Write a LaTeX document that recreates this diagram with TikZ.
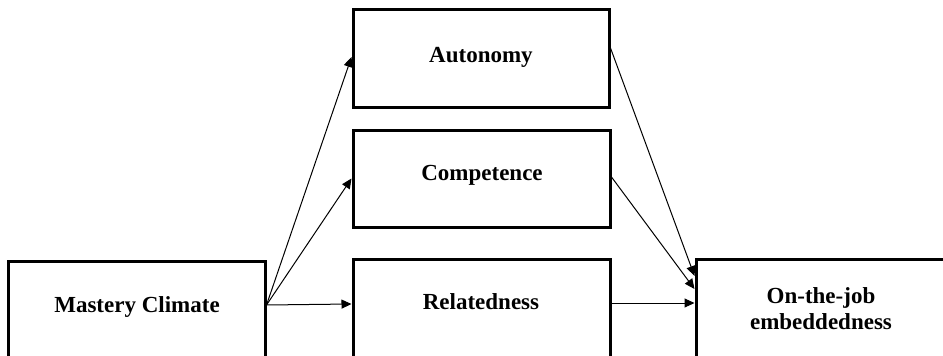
\documentclass[tikz,border=0pt]{standalone}
\usepackage{fontspec}
\setmainfont{Liberation Serif}
\usetikzlibrary{arrows.meta}
\begin{document}
\begin{tikzpicture}[x=1pt,y=-1pt,
  box/.style={draw, line width=3pt, rectangle, inner sep=0pt},
  lbl/.style={font=\fontsize{23}{26}\selectfont\bfseries, anchor=base, inner sep=0pt, align=center},
  conn/.style={line width=1pt, -{Triangle[length=10pt,width=9pt]}}]
\useasboundingbox (0,0) rectangle (943,356);
\clip (0,0) rectangle (943,356);
\fill[white] (0,0) rectangle (943,356);
% boxes
\node[box, minimum width=257pt, minimum height=96pt] (mc) at (136.5,309) {};
\node[box, minimum width=256pt, minimum height=98pt] (au) at (481,58) {};
\node[box, minimum width=257pt, minimum height=97pt] (co) at (481.5,178.5) {};
\node[box, minimum width=257pt, minimum height=98pt] (re) at (481.5,308) {};
\node[box, minimum width=249pt, minimum height=98pt] (oj) at (820.5,308) {};
% labels
\node[lbl] (tmc) at (137,312) {Mastery Climate};
\node[lbl] (tau) at (481,62) {Autonomy};
\node[lbl] (tco) at (482,180) {Competence};
\node[lbl] (tre) at (481,309) {Relatedness};
\node[lbl] (toj) at (821,329) {On-the-job\\embeddedness};
% connectors
\coordinate (src) at ([yshift=4pt]mc.east);
\draw[conn] (src) -- ([yshift=1pt]au.west);
\draw[conn] (src) -- (co.west);
\draw[conn] (src) -- ([yshift=4pt]re.west);
\draw[conn] ([yshift=10pt]au.east) -- ([yshift=32pt]oj.west);
\draw[conn] ([yshift=1.5pt]co.east) -- ([yshift=19pt]oj.west);
\draw[conn] ([yshift=5pt]re.east) -- ([yshift=5pt]oj.west);
\end{tikzpicture}
\end{document}
